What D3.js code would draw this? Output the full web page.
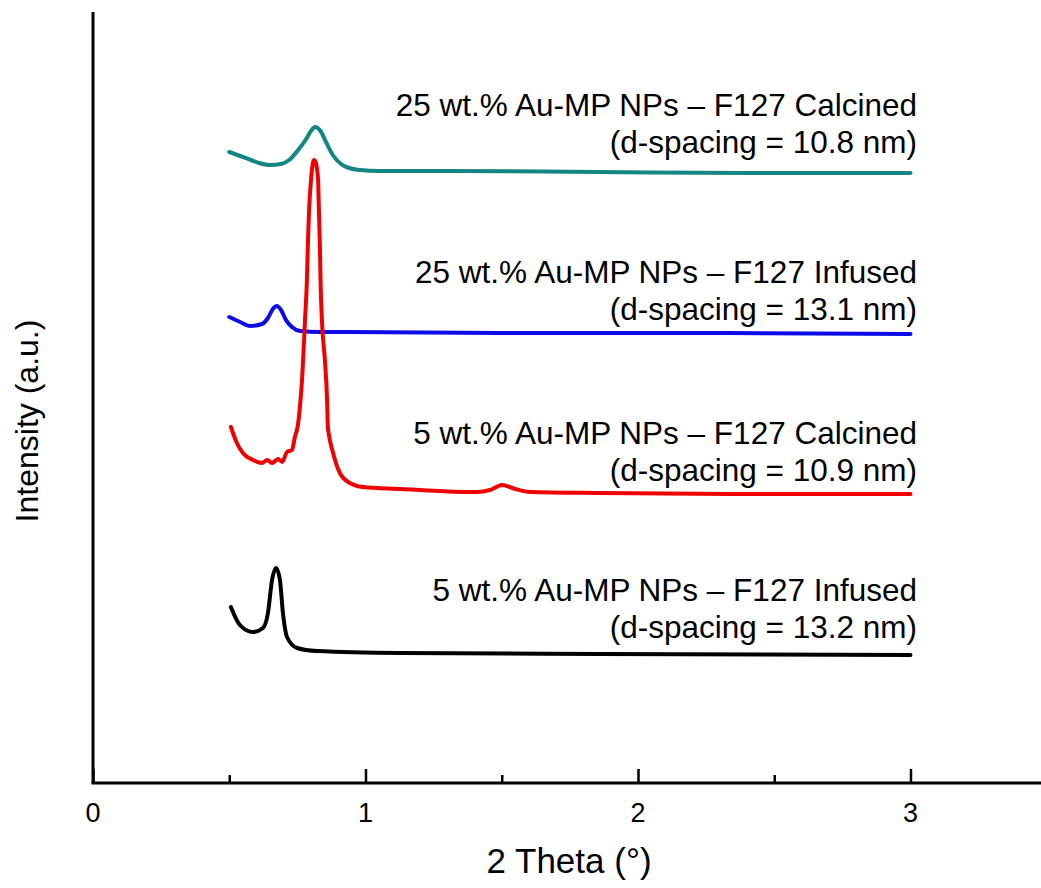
<!DOCTYPE html>
<html>
<head>
<meta charset="utf-8">
<script src="https://cdn.jsdelivr.net/npm/d3@7"></script>
<style>
  html, body { margin: 0; padding: 0; background: #fff; }
  svg { display: block; font-family: "Liberation Sans", Arial, sans-serif; }
</style>
</head>
<body>
<svg id="chart" width="1041" height="888"></svg>
<script>
// SAXS patterns, 2θ (degrees) against intensity (arbitrary units, curves stacked with offsets)
const theta25Calcined = [0.50, 0.54, 0.58, 0.61, 0.65, 0.69, 0.72, 0.75, 0.78, 0.80, 0.815, 0.835, 0.855, 0.88, 0.91, 0.94, 0.98, 1.05, 1.30, 1.85, 2.40, 3.00];
const int25Calcined   = [631, 627, 623, 620, 618, 619, 623, 632, 643, 652, 656, 652, 641, 628, 619, 615, 613, 612, 612, 611, 610, 610];

const theta25Infused = [0.50, 0.54, 0.576, 0.62, 0.642, 0.66, 0.675, 0.69, 0.708, 0.73, 0.76, 0.83, 0.94, 1.49, 2.23, 3.00];
const int25Infused   = [466, 461, 457, 459, 465, 474, 477, 473, 463, 456, 452, 451, 451, 450, 450, 449];

const theta5Calcined = [0.506, 0.528, 0.550, 0.587, 0.620, 0.639, 0.657, 0.679, 0.694, 0.712, 0.730, 0.741, 0.752, 0.760,
                        0.767, 0.771, 0.778, 0.785, 0.789, 0.793, 0.800, 0.807, 0.811, 0.818, 0.826, 0.829, 0.833, 0.835,
                        0.840, 0.851, 0.859, 0.862, 0.866, 0.881, 0.906, 0.943, 0.991, 1.127, 1.273, 1.409, 1.457, 1.501,
                        1.549, 1.604, 1.861, 2.411, 3.00];
const int5Calcined   = [356, 340, 330, 323, 320, 323, 320, 324, 321, 331, 333, 346, 358, 378,
                        403, 423, 463, 503, 543, 573, 603, 620, 623, 620, 603, 573, 533, 503,
                        463, 423, 383, 356, 348, 330, 310, 300, 296, 294, 292, 291, 293, 298,
                        294, 291, 290, 289, 289];

const theta5Infused = [0.506, 0.539, 0.587, 0.624, 0.642, 0.657, 0.672, 0.686, 0.697, 0.712, 0.749, 0.822, 1.127, 1.861, 3.00];
const int5Infused   = [176, 158, 151, 155, 170, 203, 215, 203, 170, 146, 135, 132, 130, 129, 128];

const seriesNames = [
  "25 wt.% Au-MP NPs \u2013 F127 Calcined",
  "25 wt.% Au-MP NPs \u2013 F127 Infused",
  "5 wt.% Au-MP NPs \u2013 F127 Calcined",
  "5 wt.% Au-MP NPs \u2013 F127 Infused"
];
const dSpacings = [10.8, 13.1, 10.9, 13.2];

const xMajorTicks = [0, 1, 2, 3];
const xMinorTicks = [0.5, 1.5, 2.5];
const xTickLabels = ["0", "1", "2", "3"];

const svg = d3.select("#chart");

const x = d3.scaleLinear().domain([0, 3.5]).range([93, 1046.75]);
const y = d3.scaleLinear().domain([0, 771]).range([783, 12]);

const colors = ["#138583", "#0b0be8", "#f00000", "#000000"];
const curves = [
  [theta25Calcined, int25Calcined],
  [theta25Infused, int25Infused],
  [theta5Calcined, int5Calcined],
  [theta5Infused, int5Infused]
];

const line = d3.line()
  .x(d => x(d[0]))
  .y(d => y(d[1]))
  .curve(d3.curveMonotoneX);

// Red trace drawn last so its peak sits over the blue trace
const drawOrder = [3, 1, 0, 2];
drawOrder.forEach(i => {
  const [tx, ty] = curves[i];
  const pts = tx.map((t, k) => [t, ty[k]]);
  svg.append("path")
    .datum(pts)
    .attr("d", line)
    .attr("fill", "none")
    .attr("stroke", colors[i])
    .attr("stroke-width", 4)
    .attr("stroke-linejoin", "round")
    .attr("stroke-linecap", "round");
});

// x axis: inward major and minor ticks
const xAxisMajor = d3.axisBottom(x).tickValues(xMajorTicks).tickSize(-14).tickFormat("");
const gx = svg.append("g").attr("transform", `translate(0,${y(0)})`).call(xAxisMajor);
gx.select(".domain").remove();
gx.selectAll(".tick line").attr("stroke", "#000").attr("stroke-width", 2.5);

const xAxisMinor = d3.axisBottom(x).tickValues(xMinorTicks).tickSize(-8).tickFormat("");
const gxm = svg.append("g").attr("transform", `translate(0,${y(0)})`).call(xAxisMinor);
gxm.select(".domain").remove();
gxm.selectAll(".tick line").attr("stroke", "#000").attr("stroke-width", 2.5);

// tick labels
svg.append("g").selectAll("text")
  .data(xMajorTicks)
  .join("text")
  .attr("x", d => x(d))
  .attr("y", y(0) + 39)
  .attr("text-anchor", "middle")
  .attr("font-size", 27)
  .attr("fill", "#000")
  .text((d, i) => xTickLabels[i]);

svg.append("line")
  .attr("x1", x(0) - 1.5).attr("x2", x(3.5))
  .attr("y1", y(0)).attr("y2", y(0))
  .attr("stroke", "#000").attr("stroke-width", 3);

svg.append("line")
  .attr("x1", x(0)).attr("x2", x(0))
  .attr("y1", y(0)).attr("y2", y(771))
  .attr("stroke", "#000").attr("stroke-width", 3);

// Axis titles
svg.append("text")
  .attr("x", 569).attr("y", 873)
  .attr("text-anchor", "middle")
  .attr("font-size", 35)
  .text("2 Theta (\u00b0)");

svg.append("text")
  .attr("transform", "translate(38,421) rotate(-90)")
  .attr("text-anchor", "middle")
  .attr("font-size", 32)
  .text("Intensity (a.u.)");

// Curve annotations
const labelBaselines = [116, 283, 444, 601];
seriesNames.forEach((name, i) => {
  const t = svg.append("text")
    .attr("text-anchor", "end")
    .attr("font-size", 31.5)
    .attr("fill", "#000");
  t.append("tspan").attr("x", 917).attr("y", labelBaselines[i]).text(name);
  t.append("tspan").attr("x", 917).attr("y", labelBaselines[i] + 37)
    .text(`(d-spacing = ${dSpacings[i].toFixed(1)} nm)`);
});
</script>
</body>
</html>
